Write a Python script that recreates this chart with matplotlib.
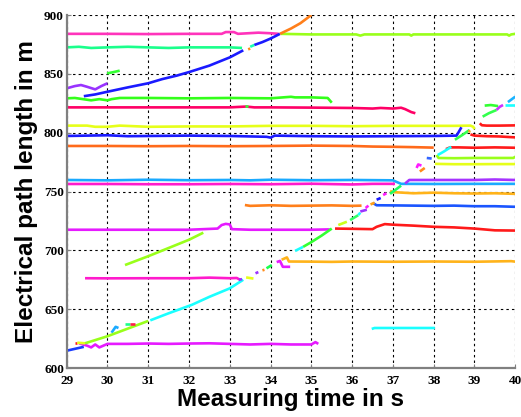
import matplotlib
matplotlib.use("Agg")
import matplotlib.pyplot as plt

# ---- data (time in s, path length in m) ----
pink_x = [29.0, 30.0, 31.0, 32.0, 32.8, 32.9, 33.1, 33.2, 33.7, 34.0, 34.2]
pink_y = [884, 884, 883.8, 884, 884, 885.5, 885.5, 884, 885, 884.5, 884]

lime_top_x = [34.25, 35.0, 36.1, 36.2, 36.3, 37.4, 37.45, 37.5, 38.5, 39.8, 39.85, 39.9, 40.0]
lime_top_y = [884, 883.5, 883.5, 882.5, 883.5, 883.5, 882.5, 883.5, 883.5, 883.5, 882.5, 883.5, 884]

spring_x = [29.0, 29.3, 29.6, 30.0, 30.5, 31.0, 31.5, 32.0, 32.5, 33.0, 33.3]
spring_y = [872.5, 873, 872, 872.5, 873, 872.5, 872, 872.5, 872.5, 872.5, 872]

blue_curve_x = [29.42, 29.7, 30.0, 30.5, 31.0, 31.34, 31.7, 32.0, 32.5, 33.0, 33.33]
blue_curve_y = [831, 832.5, 834.8, 838.5, 842, 845.5, 848.5, 851.5, 857, 864, 870]
blue_curve2_x = [33.6, 33.8, 34.0, 34.23]
blue_curve2_y = [874.5, 877, 880, 884]
orange_top_x = [34.23, 34.5, 34.73, 35.0]
orange_top_y = [884, 888.5, 893, 900]

purple_x = [29.0, 29.2, 29.35, 29.5, 29.7, 29.85, 30.0]
purple_y = [837.7, 839.6, 840.5, 839, 836.8, 839.6, 842]
green_short_x = [29.99, 30.15, 30.3]
green_short_y = [850.4, 851.5, 852.7]

green_x = [29.0, 29.2, 29.4, 29.6, 29.8, 30.0, 30.1, 30.3, 30.5, 31.0, 32.0, 33.0, 34.0,
           34.5, 34.6, 35.0, 35.4, 35.5]
green_y = [829.2, 829.5, 828.5, 827.5, 828.5, 827.5, 828.5, 829.5, 829.5, 829.5, 829.2,
           829.5, 829.2, 830.5, 830, 830, 829.5, 825.5]

crimson_x = [29.0, 30.0, 31.0, 32.0, 33.0, 33.4, 33.6, 34.0, 35.0, 36.0, 36.5, 36.7,
             37.0, 37.2, 37.3, 37.45, 37.55]
crimson_y = [821.5, 821.5, 821.5, 821.5, 821.5, 822.2, 821.5, 821.5, 821.3, 821, 820.5,
             821, 820.5, 821.2, 820, 817.5, 816.5]

yellow_x = [29.0, 29.5, 29.7, 30.0, 30.3, 31.0, 32.0, 33.0, 34.0, 35.0, 36.0, 37.0,
            38.0, 38.5, 38.9, 38.97, 39.0]
yellow_y = [806, 806, 805, 805, 806, 805, 805.3, 805.3, 805.8, 805.8, 805.5, 805.8,
            805.8, 805.8, 806, 805, 803]

blue_x = [29.0, 29.5, 30.0, 30.5, 31.0, 32.0, 33.0, 33.9, 34.0, 34.1, 35.0, 36.0, 37.0,
          38.0, 38.56, 38.62, 38.68]
blue_y = [797.2, 797.5, 797.8, 797, 797.2, 797.5, 797.2, 796.5, 795.8, 797.5, 797,
          796.8, 797, 797.2, 797.5, 801, 804.6]

orange_x = [29.0, 30.0, 31.0, 32.0, 33.0, 34.0, 35.0, 36.0, 36.5, 37.0, 37.5, 38.0]
orange_y = [788.7, 788.7, 788.5, 788.7, 788.5, 788.7, 789, 788.7, 788.2, 788, 787.7, 787.3]

ltblue_x = [29.0, 30.0, 31.0, 32.0, 33.0, 33.5, 34.0, 35.0, 36.0, 37.0, 37.2, 37.4,
            38.0, 39.0, 40.0]
ltblue_y = [759.8, 759.5, 760, 759.6, 759.8, 759.5, 760, 759.6, 759.8, 759.5, 756.5,
            756.5, 756.4, 756.5, 756.5]
magenta756_x = [29.0, 30.0, 31.0, 32.0, 33.0, 34.0, 35.0, 36.0, 36.5, 37.05]
magenta756_y = [756.4, 756.4, 756.2, 756.2, 756.4, 756.2, 756.6, 756.0, 756.5, 756.5]
violet760_x = [37.3, 37.4, 38.0, 39.0, 39.5, 40.0]
violet760_y = [756.8, 759.8, 759.8, 759.8, 760.2, 759.8]

yelorange749_x = [36.93, 37.0, 37.5, 38.0, 38.5, 39.0, 39.5, 40.0]
yelorange749_y = [750.5, 749.5, 748.5, 749, 748.5, 748.3, 748.5, 748]

orange738_x = [33.37, 33.5, 34.0, 34.5, 35.0, 35.5, 36.0, 36.23]
orange738_y = [738.5, 737.8, 738.3, 737.8, 738, 738.2, 737.8, 738]
blue737_x = [36.52, 36.6, 37.0, 37.5, 38.0, 38.5, 39.0, 39.5, 40.0]
blue737_y = [740, 738.3, 738.2, 738, 737.8, 738, 737.5, 737.5, 737]

magenta718_x = [29.0, 30.0, 31.0, 32.0, 32.7, 32.8, 32.9, 33.0, 33.05, 33.5, 34.0, 35.0, 35.45]
magenta718_y = [717.5, 717.5, 717.5, 717.5, 718.5, 721.5, 722.5, 722, 718, 717.5, 717.5, 717.5, 717.8]
red718_x = [35.58, 36.0, 36.5, 36.6, 36.8, 37.0, 37.5, 38.0, 38.5, 39.0, 39.5, 40.0]
red718_y = [718.5, 718.3, 718, 720, 722.3, 721.8, 721, 720, 719.5, 718.5, 717, 716.8]

lime_diag_x = [30.43, 31.0, 31.5, 32.0, 32.35]
lime_diag_y = [687.5, 695, 702, 709, 715]

magenta676_x = [29.45, 30.0, 31.0, 32.0, 32.5, 33.0, 33.17, 33.25]
magenta676_y = [676.3, 676.2, 676.3, 676.3, 676.8, 676.3, 676.5, 675]

yelorange690_x = [34.27, 34.4, 34.45, 35.0, 35.5, 36.0, 37.0, 38.0, 39.0, 39.9, 40.0]
yelorange690_y = [692, 694, 690.5, 690.4, 690.2, 690.5, 690.3, 690.5, 690.3, 690.8, 690.4]
magenta686_x = [34.15, 34.23, 34.3, 34.48]
magenta686_y = [690, 691, 686, 686]

magenta620_x = [29.3, 29.5, 29.6, 29.7, 29.8, 30.0, 30.5, 31.0, 31.5, 32.0, 32.5, 33.0,
                33.5, 34.0, 34.5, 35.0, 35.1, 35.17]
magenta620_y = [621, 619, 617.5, 620, 617.5, 620.5, 620.5, 620.8, 620.5, 620.8, 621,
                620.5, 620, 620.5, 620, 620, 622, 620.5]

cyan634_x = [36.48, 36.55, 37.0, 37.5, 38.03]
cyan634_y = [633.2, 634, 634, 634, 634]

hook_x = [30.1, 30.2, 30.27]
hook_y = [630, 635, 634]

red806_x = [39.13, 39.18, 39.3, 39.6, 40.0]
red806_y = [808, 806.3, 806, 806, 806.2]
red797_x = [38.9, 39.0, 39.3, 39.6, 40.0]
red797_y = [798.5, 797.5, 797, 796.8, 796]
red787_x = [38.3, 38.4, 38.6, 39.0, 39.5, 40.0]
red787_y = [786, 787.5, 787.5, 787.2, 787.5, 787.2]
lime778_x = [38.07, 38.12, 38.5, 39.0, 39.5, 39.95, 40.0]
lime778_y = [781, 778.5, 778.3, 778.5, 778.5, 778.5, 779.5]
yellow773_x = [38.03, 38.5, 39.0, 39.5, 40.0]
yellow773_y = [773.5, 773.2, 773.2, 773.3, 773.3]
green823_x = [39.25, 39.4, 39.58]
green823_y = [823, 823.5, 822.6]

# the rising track, broken into short pieces of different colours
ramp_x = [[29.0, 29.42], [29.2, 29.26], [29.26, 29.45], [29.45, 30.0, 30.5, 31.0],
          [31.05, 31.5, 32.07, 32.5, 33.0, 33.33], [33.22, 33.3], [33.4, 33.58],
          [33.63, 33.7], [33.8, 33.85], [33.9, 34.03], [34.6, 34.8],
          [34.8, 35.0, 35.25, 35.5], [35.66, 35.87], [35.95, 36.15], [36.15, 36.2],
          [36.2, 36.36], [36.33, 36.4], [36.45, 36.55], [36.6, 36.7], [36.76, 36.84],
          [36.93, 37.2], [37.58, 37.62, 37.7], [37.66, 37.78], [37.83, 37.95],
          [38.1, 38.25, 38.43], [38.52, 38.7, 38.88], [38.85, 38.9],
          [39.2, 39.35, 39.54], [39.54, 39.62, 39.7], [39.75, 40.0], [39.82, 40.0],
          [33.45, 33.5], [33.5, 33.6], [33.38, 33.45], [30.44, 30.55], [30.55, 30.68]]
ramp_y = [[614.7, 618], [621, 621], [621.5, 621], [621, 627, 633.5, 640],
          [640.5, 646.5, 653.7, 660.5, 667.7, 675], [675, 675.5], [677, 676],
          [680.5, 681.5], [683, 683.5], [684.7, 687.5], [699.5, 703],
          [703, 707, 712.5, 718.5], [721.5, 724.3], [725.7, 729.9], [730, 732],
          [733, 734.5], [736, 738], [739, 740.5], [743, 744.5], [747, 748.5],
          [748, 755], [770, 773, 772], [767, 770], [778.5, 778],
          [781, 784, 788], [794, 798, 802.3], [800.8, 801.5],
          [813.6, 816.5, 819.3], [819.3, 822, 823.5], [823.5, 823.5], [826, 830.6],
          [870.8, 871.5], [873, 874.5], [823, 823], [637, 637], [637, 637]]
ramp_c = ["#1a3cff", "#ff1a1a", "#e6ff1a", "#99ff1a",
          "#1affff", "#9933ff", "#e6ff1a",
          "#9933ff", "#ff8c1a", "#1aff4d", "#1affff",
          "#33ff33", "#ccff1a", "#33ff66", "#1affff",
          "#9933ff", "#ff1aff", "#ffa01a", "#1a1aff", "#ff1aff",
          "#1aff66", "#ff1aff", "#ff8c1a", "#3366ff",
          "#1affff", "#33ff4d", "#ffa01a",
          "#33ff4d", "#cc33ff", "#1affff", "#1ab3ff",
          "#ff8c1a", "#1affb3", "#33ff33", "#1aff8c", "#ff1a4d"]

traces = [
    (pink_x, pink_y, "#ff33bb"), (lime_top_x, lime_top_y, "#99ff1a"),
    (spring_x, spring_y, "#1aff8c"), (blue_curve_x, blue_curve_y, "#1a1aff"),
    (blue_curve2_x, blue_curve2_y, "#1a1aff"), (orange_top_x, orange_top_y, "#ff7f1a"),
    (purple_x, purple_y, "#9933ff"), (green_short_x, green_short_y, "#33ff33"),
    (green_x, green_y, "#33ff1a"), (crimson_x, crimson_y, "#ff0066"),
    (yellow_x, yellow_y, "#e6ff1a"), (blue_x, blue_y, "#1a1aff"),
    (orange_x, orange_y, "#ff6a1a"), (ltblue_x, ltblue_y, "#1aaaff"),
    (magenta756_x, magenta756_y, "#ff1acc"), (violet760_x, violet760_y, "#a633ff"),
    (yelorange749_x, yelorange749_y, "#ffb31a"), (orange738_x, orange738_y, "#ff7f1a"),
    (blue737_x, blue737_y, "#1a55ff"), (magenta718_x, magenta718_y, "#e61aff"),
    (red718_x, red718_y, "#ff1a1a"), (lime_diag_x, lime_diag_y, "#99ff1a"),
    (magenta676_x, magenta676_y, "#ff1acc"), (yelorange690_x, yelorange690_y, "#ffb31a"),
    (magenta686_x, magenta686_y, "#e61aff"), (magenta620_x, magenta620_y, "#e61aff"),
    (cyan634_x, cyan634_y, "#1affff"), (hook_x, hook_y, "#1aaaff"),
    (red806_x, red806_y, "#ff1a1a"), (red797_x, red797_y, "#ff1a1a"),
    (red787_x, red787_y, "#ff1a1a"), (lime778_x, lime778_y, "#99ff1a"),
    (yellow773_x, yellow773_y, "#e6ff1a"), (green823_x, green823_y, "#33ff33"),
]
traces += list(zip(ramp_x, ramp_y, ramp_c))

fig = plt.figure(figsize=(5.21, 4.17), dpi=100)
ax = fig.add_axes([0.128, 0.1175, 0.861, 0.8465])

for x, y, c in traces:
    ax.plot(x, y, color=c, linewidth=1.9, solid_capstyle="butt")

ax.set_xlim(29, 40)
ax.set_ylim(600, 900)
ax.set_xticks(range(29, 41))
ax.set_yticks(range(600, 901, 50))
ax.grid(True, color="black", linestyle=(0, (2.2, 2.8)), linewidth=0.8)
ax.set_axisbelow(True)

for side in ["top", "right"]:
    ax.spines[side].set_visible(False)
for side in ["left", "bottom"]:
    ax.spines[side].set_color("#808080")
    ax.spines[side].set_linewidth(1.6)

ax.tick_params(direction="in", length=3, color="#808080")
ax.tick_params(axis="x", pad=5)
ax.tick_params(axis="y", pad=2)
for lab in ax.get_xticklabels() + ax.get_yticklabels():
    lab.set_fontfamily("Liberation Serif")
    lab.set_fontweight("bold")
    lab.set_fontsize(9.5)

ax.set_xlabel("Measuring time in s", fontfamily="Liberation Sans", fontweight="bold",
              fontsize=17.5, labelpad=1)
ax.set_ylabel("Electrical path length in m", fontfamily="Liberation Sans",
              fontweight="bold", fontsize=17.5, labelpad=4)

fig.savefig("out.png", dpi=100)
